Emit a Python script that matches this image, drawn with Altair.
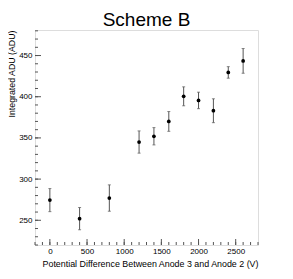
import altair as alt
import pandas as pd

# data
title_text = "Scheme B"
voltage = [0, 400, 800, 1200, 1400, 1600, 1800, 2000, 2200, 2400, 2600]
adu = [274.5, 252, 277, 345, 352, 370, 400.5, 395.5, 383, 429.5, 443.5]
adu_err = [14, 13.5, 16, 13.5, 10.5, 12, 11.5, 10, 14.5, 7, 15]

y_major = [250, 300, 350, 400, 450]
y_minor = list(range(220, 481, 10))
x_major = [0, 500, 1000, 1500, 2000, 2500]
x_minor = list(range(-200, 2801, 100))

W, H = 223, 215
FONT = "Liberation Sans"

df = pd.DataFrame({"v": voltage, "a": adu, "e": adu_err})
df["lo"] = df["a"] - df["e"]
df["hi"] = df["a"] + df["e"]

xs = alt.Scale(domain=[-200, 2800], nice=False, zero=False)
ys = alt.Scale(domain=[220, 481], nice=False, zero=False)

base = alt.Chart(df)

errbar = base.mark_rule(color="#555", strokeWidth=1).encode(
    x=alt.X("v:Q", scale=xs,
            axis=alt.Axis(values=x_major, format="d", ticks=False, tickSize=0, domain=False, grid=False,
                          labelFontSize=8, labelFont=FONT, labelPadding=2, labelColor="#000",
                          title="Potential Difference Between Anode 3 and Anode 2 (V)",
                          titleFont=FONT, titleFontSize=8.9, titleFontWeight="normal",
                          titleAlign="right", titleX=W, titleY=18, titleBaseline="middle",
                          titleColor="#000")),
    y=alt.Y("lo:Q", scale=ys,
            axis=alt.Axis(values=y_major, format="d", ticks=False, tickSize=0, domain=False, grid=False,
                          labelFontSize=8, labelFont=FONT, labelPadding=3, labelColor="#000",
                          title="Integrated ADU (ADU)",
                          titleFont=FONT, titleFontSize=8.8, titleFontWeight="normal",
                          titleAngle=-90, titleAlign="right", titleBaseline="middle",
                          titleX=-23.5, titleY=0, titleColor="#000")),
    y2="hi:Q",
)

cap_lo = base.mark_tick(orient="horizontal", size=3, thickness=1, color="#555").encode(
    x=alt.X("v:Q", scale=xs), y=alt.Y("lo:Q", scale=ys))
cap_hi = base.mark_tick(orient="horizontal", size=3, thickness=1, color="#555").encode(
    x=alt.X("v:Q", scale=xs), y=alt.Y("hi:Q", scale=ys))

pts = base.mark_circle(size=14, color="#000", opacity=1).encode(
    x=alt.X("v:Q", scale=xs), y=alt.Y("a:Q", scale=ys))

ymaj = alt.Chart(pd.DataFrame({"t": y_major})).mark_rule(color="#555").encode(
    y=alt.Y("t:Q", scale=ys), x=alt.value(0), x2=alt.value(6))
ymin = alt.Chart(pd.DataFrame({"t": y_minor})).mark_rule(color="#555").encode(
    y=alt.Y("t:Q", scale=ys), x=alt.value(0), x2=alt.value(3))
xmaj = alt.Chart(pd.DataFrame({"t": x_major})).mark_rule(color="#555").encode(
    x=alt.X("t:Q", scale=xs), y=alt.value(H), y2=alt.value(H - 6))
xmin = alt.Chart(pd.DataFrame({"t": x_minor})).mark_rule(color="#555").encode(
    x=alt.X("t:Q", scale=xs), y=alt.value(H), y2=alt.value(H - 3))

title = alt.Chart(pd.DataFrame({"t": [title_text]})).mark_text(
    font=FONT, fontSize=19, color="#000", align="center", baseline="alphabetic"
).encode(text="t:N", x=alt.value(W / 2), y=alt.value(-4.5))

chart = alt.layer(errbar, cap_lo, cap_hi, pts, ymaj, ymin, xmaj, xmin, title).properties(
    width=W, height=H,
    autosize=alt.AutoSizeParams(type="none"),
    padding={"left": 27, "top": 22, "right": 20, "bottom": 24},
).configure_view(stroke="#555", strokeWidth=1).configure(background="white")

chart.save("out.html", embed_options={"renderer": "svg", "actions": False})
